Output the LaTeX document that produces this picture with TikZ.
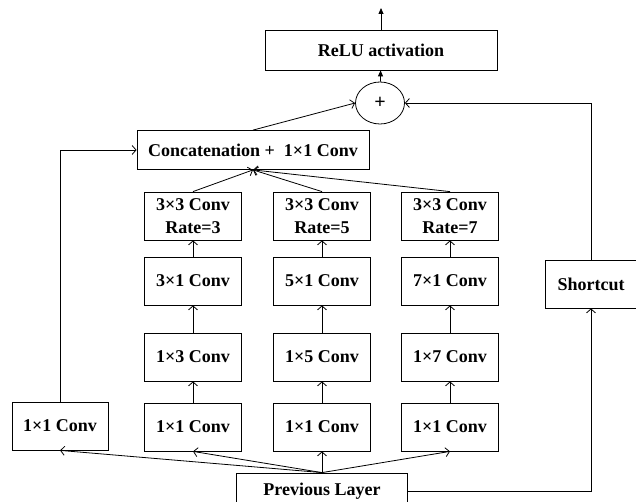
\documentclass[tikz,border=0pt]{standalone}
\usepackage{fontspec}
\setmainfont{Liberation Serif}
\usetikzlibrary{arrows.meta, shapes.geometric}

\begin{document}
\begin{tikzpicture}[
    x=1pt, y=-1pt, % pixel-like grid, y runs downwards
    >={Straight Barb[length=4pt, width=9pt]}, % open tips for the data flow
    line width=0.8pt,
    box/.style={draw, rectangle, minimum height=48pt, align=center,
        font=\fontsize{18}{23}\selectfont\bfseries, inner sep=2pt},
    conv/.style={box, minimum width=97pt}, % Style for the branch blocks
    solid tip/.style={-{Triangle[length=6pt, width=5pt]}}
]

\useasboundingbox (0,0) rectangle (636,502);

% Output part
\node[box, minimum width=232pt, minimum height=40pt] (relu) at (381,50) {ReLU activation};
\node[draw, ellipse, minimum width=49pt, minimum height=42pt, inner sep=0pt,
    font=\fontsize{20}{23}\selectfont\bfseries] (plus) at (380,103) {+};
\node[box, minimum width=232pt, minimum height=39pt] (concat) at (253,150) {Concatenation +\ \ 1×1 Conv};
\coordinate (out) at (381,8);

% Three branches, kernel size k = 3, 5, 7
\foreach \k/\x in {3/193, 5/322, 7/450} {
    \node[conv] (dil\k) at (\x,216) {3×3 Conv\\Rate=\k};
    \node[conv] (col\k) at (\x,281) {\k×1 Conv};
    \node[conv] (row\k) at (\x,357) {1×\k\ Conv};
    \node[conv] (pw\k)  at (\x,427) {1×1 Conv};
}

% Side blocks
\node[box, minimum width=96pt] (pwleft) at (60,426) {1×1 Conv};
\node[box, minimum width=92pt] (short) at (591,284) {Shortcut};
\node[box, minimum width=171pt, minimum height=36pt] (prev) at (322,491) {Previous Layer};

% Input fan out
\draw[->] (prev.north) -- (pwleft.south);
\foreach \k in {3,5,7} {
    \draw[->] (prev.north) -- (pw\k.south);
    \draw[->] (pw\k) -- (row\k);
    \draw[->] (row\k) -- (col\k);
    \draw[->] (col\k) -- (dil\k);
    \draw[->] (dil\k.north) -- (concat.south);
}
\draw[->] (pwleft.north) |- (concat.west);
\draw[->] (prev.east) -| (short.south);

% Merge and activation
\draw[->] (concat.north) -- (plus.west);
\draw[->] (short.north) |- (plus.east);
\draw[solid tip] (plus) -- (relu);
\draw[solid tip] (relu) -- (out);

\end{tikzpicture}
\end{document}
